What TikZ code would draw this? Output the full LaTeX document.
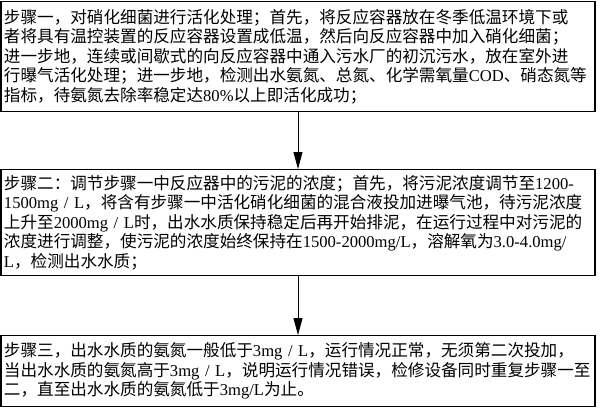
\documentclass[tikz,border=0pt]{standalone}
\usepackage{fontspec}
\usetikzlibrary{arrows.meta}
\newfontfamily\cjk{Noto Sans CJK SC}
\newfontfamily\latinfont{Liberation Serif}
% latin runs inside the chinese text
\newcommand\lat[1]{{\latinfont #1}}

\begin{document}
\begin{tikzpicture}[x={(1pt,0pt)},y={(0pt,-1pt)},
    stepbox/.style={draw,line width=1.2pt,text width=588pt,inner sep=3pt,align=left,anchor=north,
        font=\cjk\fontsize{16.6}{19.5}\selectfont},
    flow/.style={line width=0.8pt,-{Triangle[length=17pt,width=9pt]}}]
    \useasboundingbox (0,0) rectangle (600,408);
    % the three steps
    \node[stepbox,minimum height=110pt] (step1) at (298,1) {%
        步骤一，对硝化细菌进行活化处理；首先，将反应容器放在冬季低温环境下或\\
        者将具有温控装置的反应容器设置成低温，然后向反应容器中加入硝化细菌；\\
        进一步地，连续或间歇式的向反应容器中通入污水厂的初沉污水，放在室外进\\
        行曝气活化处理；进一步地，检测出水氨氮、总氮、化学需氧量\lat{COD}、硝态氮等\\
        指标，待氨氮去除率稳定达\lat{80\%}以上即活化成功；};
    \node[stepbox,minimum height=106pt] (step2) at (298,169) {%
        步骤二：调节步骤一中反应器中的污泥的浓度；首先，将污泥浓度调节至\lat{1200-}\\
        \lat{1500mg / L}，将含有步骤一中活化硝化细菌的混合液投加进曝气池，待污泥浓度\\
        上升至\lat{2000mg / L}时，出水水质保持稳定后再开始排泥，在运行过程中对污泥的\\
        浓度进行调整，使污泥的浓度始终保持在\lat{1500-2000mg/L}，溶解氧为\lat{3.0-4.0mg/}\\
        \lat{L}，检测出水水质；};
    \node[stepbox,minimum height=71pt] (step3) at (298,335) {%
        步骤三，出水水质的氨氮一般低于\lat{3mg / L}，运行情况正常，无须第二次投加，\\
        当出水水质的氨氮高于\lat{3mg / L}，说明运行情况错误，检修设备同时重复步骤一至\\
        二，直至出水水质的氨氮低于\lat{3mg/L}为止。};
    % connectors
    \draw[flow] (step1) -- (step2);
    \draw[flow] (step2) -- (step3);
\end{tikzpicture}
\end{document}
